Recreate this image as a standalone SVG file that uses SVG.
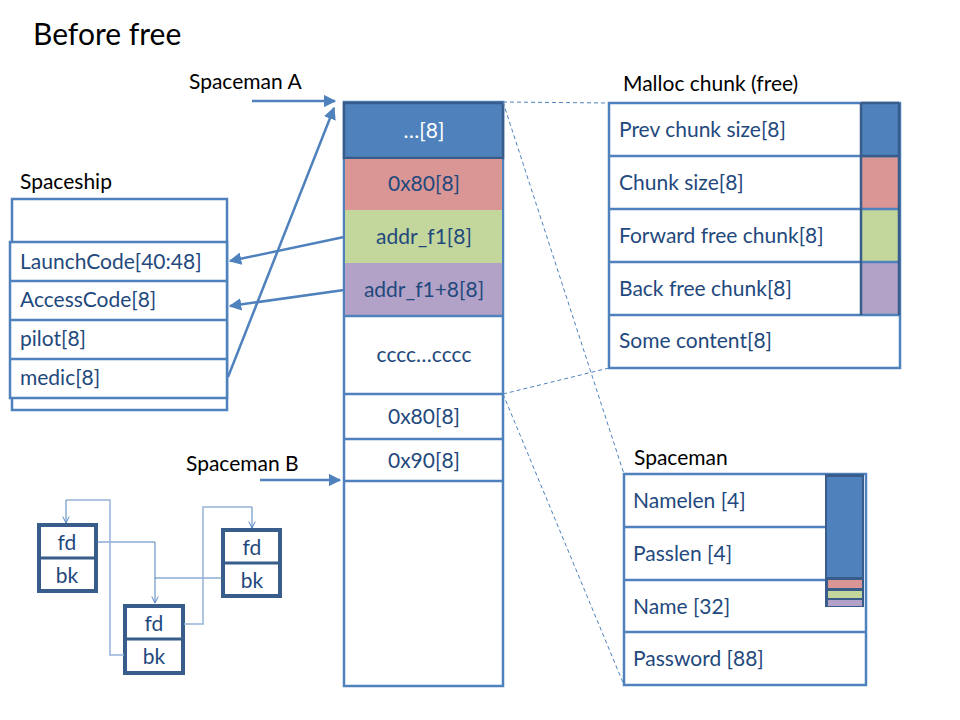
<svg xmlns="http://www.w3.org/2000/svg" width="960" height="720" viewBox="0 0 960 720">
<defs>
<marker id="ah" viewBox="0 0 10 10" refX="9" refY="5" markerWidth="5" markerHeight="5" orient="auto" markerUnits="strokeWidth"><path d="M0,0 L10,5 L0,10 z" fill="#4F81BD"/></marker>
<marker id="ah2" viewBox="0 0 10 10" refX="9" refY="5" markerWidth="8" markerHeight="8" orient="auto" markerUnits="strokeWidth"><path d="M1,1 L9,5 L1,9" fill="none" stroke="#4F81BD" stroke-width="1.2"/></marker>
</defs>
<style>
text{font-family:Lato,"Liberation Sans",sans-serif;}
.t{font-size:21px;fill:#1F497D;}
.c{text-anchor:middle;}
.h{font-size:21px;fill:#000;}
.box{fill:#fff;stroke:#4F81BD;stroke-width:2.5;}
.ln{stroke:#4F81BD;stroke-width:2.5;fill:none;}
.dk{stroke:#385D8A;}
.dash{stroke:#4F81BD;stroke-width:1;stroke-dasharray:4,3;fill:none;}
.arr{stroke:#4F81BD;stroke-width:2.5;fill:none;marker-end:url(#ah);}
.sm{stroke:#4F81BD;stroke-width:1;fill:none;marker-end:url(#ah2);}
.sl{stroke:#4F81BD;stroke-width:1;fill:none;}
.sm2{stroke:#95B3D7;stroke-width:1.5;fill:none;}
.sb{fill:#fff;stroke:#385D8A;stroke-width:4;}
</style>
<rect width="960" height="720" fill="#fff"/>
<text x="33" y="45" style="font-size:30px;fill:#000">Before free</text>

<g id="memory">
<rect class="box" x="344" y="102" width="159" height="584"/>
<rect x="344" y="103" width="159" height="55" fill="#4F81BD" stroke="#385D8A" stroke-width="2.5"/>
<rect x="345" y="159" width="157" height="51" fill="#D99694"/>
<rect x="345" y="210" width="157" height="53" fill="#C3D69B"/>
<rect x="345" y="263" width="157" height="53" fill="#B3A2C7"/>
<path class="ln" d="M344,316H503M344,394H503M344,439H503M344,481H503"/>
<text class="t c" x="424" y="138" style="fill:#fff">…[8]</text>
<text class="t c" x="424" y="191">0x80[8]</text>
<text class="t c" x="424" y="244">addr_f1[8]</text>
<text class="t c" x="424" y="297">addr_f1+8[8]</text>
<text class="t c" x="424" y="362">cccc…cccc</text>
<text class="t c" x="424" y="424">0x80[8]</text>
<text class="t c" x="424" y="468">0x90[8]</text>
</g>

<g id="malloc-chunk">
<text class="h" x="623" y="91">Malloc chunk (free)</text>
<rect class="box" x="609" y="103" width="291" height="265"/>
<rect x="861" y="104" width="38" height="52" fill="#4F81BD"/>
<rect x="861" y="157" width="38" height="52" fill="#D99694"/>
<rect x="861" y="210" width="38" height="52" fill="#C3D69B"/>
<rect x="861" y="263" width="38" height="52" fill="#B3A2C7"/>
<path class="ln" d="M609,156H900M609,209H900M609,262H900M609,315H900"/>
<path class="ln dk" d="M861,103V315M899,103V315M861,103H899M861,156H899"/>
<text class="t" x="619" y="137">Prev chunk size[8]</text>
<text class="t" x="619" y="190">Chunk size[8]</text>
<text class="t" x="619" y="243">Forward free chunk[8]</text>
<text class="t" x="619" y="296">Back free chunk[8]</text>
<text class="t" x="619" y="348">Some content[8]</text>
</g>

<g id="spaceship">
<text class="h" x="20" y="189">Spaceship</text>
<rect class="box" x="12" y="199" width="215" height="211"/>
<rect class="box" x="10" y="242" width="217" height="156"/>
<path class="ln" d="M10,281H227M10,320H227M10,359H227"/>
<text class="t" x="20" y="269">LaunchCode[40:48]</text>
<text class="t" x="20" y="307">AccessCode[8]</text>
<text class="t" x="20" y="346">pilot[8]</text>
<text class="t" x="20" y="385">medic[8]</text>
</g>

<g id="spaceman">
<text class="h" x="634" y="465">Spaceman</text>
<rect class="box" x="624" y="474" width="242" height="211"/>
<path class="ln" d="M624,527H826M624,580H826M624,632H866"/>
<rect x="825" y="474" width="39" height="133" fill="#385D8A"/>
<rect x="827" y="477" width="35" height="100" fill="#4F81BD"/>
<rect x="828" y="580" width="34" height="8" fill="#D99694"/>
<rect x="828" y="591" width="34" height="7" fill="#C3D69B"/>
<rect x="828" y="600" width="34" height="6" fill="#B3A2C7"/>
<text class="t" x="633" y="508">Namelen [4]</text>
<text class="t" x="633" y="561">Passlen [4]</text>
<text class="t" x="633" y="614">Name [32]</text>
<text class="t" x="633" y="666">Password [88]</text>
</g>

<g id="labels">
<text class="h" x="189" y="89">Spaceman A</text>
<text class="h" x="186" y="471">Spaceman B</text>
</g>

<g id="list-a">
<rect class="sb" x="39" y="525" width="57" height="66"/>
<line x1="39" y1="558" x2="96" y2="558" stroke="#385D8A" stroke-width="3"/>
<text class="t c" x="67" y="550">fd</text>
<text class="t c" x="67" y="583">bk</text>
</g>
<g id="list-b">
<rect class="sb" x="125" y="606" width="58" height="67"/>
<line x1="125" y1="639" x2="183" y2="639" stroke="#385D8A" stroke-width="3"/>
<text class="t c" x="154" y="631">fd</text>
<text class="t c" x="154" y="664">bk</text>
</g>
<g id="list-c">
<rect class="sb" x="223" y="530" width="57" height="66"/>
<line x1="223" y1="563" x2="280" y2="563" stroke="#385D8A" stroke-width="3"/>
<text class="t c" x="252" y="555">fd</text>
<text class="t c" x="252" y="588">bk</text>
</g>

<g id="connectors">
<path class="dash" d="M503,102L609,103M503,102L624,474M503,394L609,368M503,394L624,685"/>
<path class="arr" d="M252,101H335"/>
<path class="arr" d="M260,480H340"/>
<path class="arr" d="M228,377L334,108"/>
<path class="arr" d="M344,237L230,261"/>
<path class="arr" d="M344,290L230,306"/>
<path class="sm" d="M97,542H155V603"/>
<path class="sl" d="M222,578H155"/>
<path class="sm2" d="M184,624H203V507H252"/>
<path class="sm" d="M252,507V528"/>
<path class="sm2" d="M124,655H110V500H66"/>
<path class="sm" d="M66,500V523"/>
</g>
</svg>
